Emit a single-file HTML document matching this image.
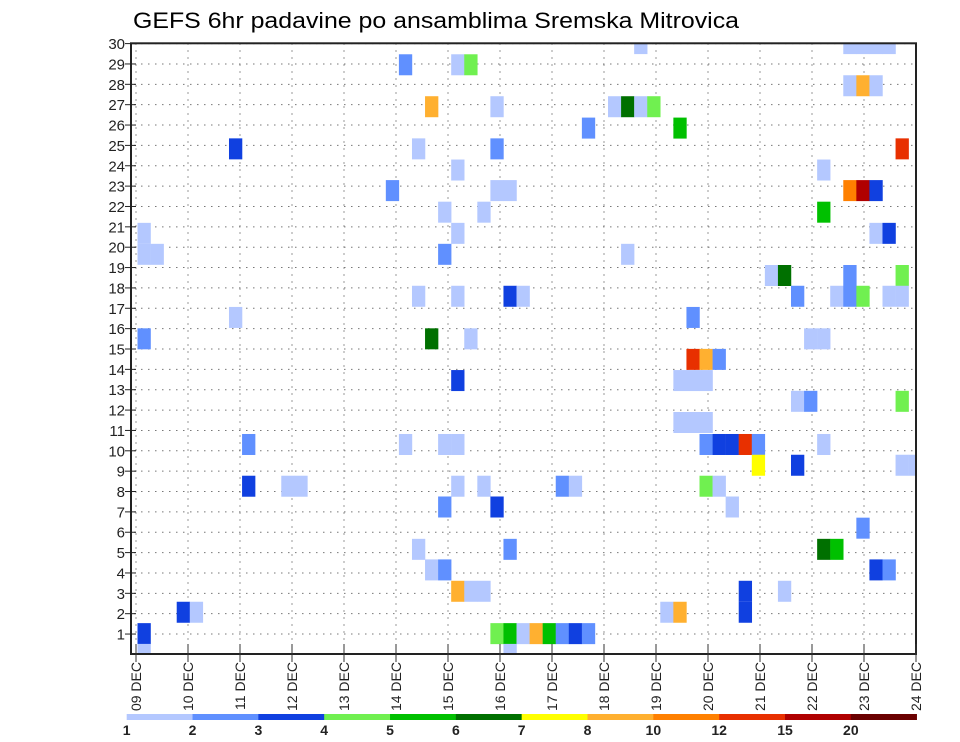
<!DOCTYPE html>
<html><head><meta charset="utf-8"><style>
html,body{margin:0;padding:0;background:#fff;}
svg{display:block;font-family:"Liberation Sans",sans-serif;}
</style></head><body>
<svg id="chart" width="960" height="742" viewBox="0 0 960 742" xmlns="http://www.w3.org/2000/svg">
<text x="133" y="28" font-size="22" textLength="606" lengthAdjust="spacingAndGlyphs" fill="#000">GEFS 6hr padavine po ansamblima Sremska Mitrovica</text>
<defs><clipPath id="plotclip"><rect x="134" y="43.3" width="782" height="610.7"/></clipPath></defs>
<g id="grid"></g>
<g id="cells" clip-path="url(#plotclip)"></g>
<g id="axes"></g>
<g id="colorbar"></g>
</svg>
<script>
// data: 6-hour step index from 09 DEC 00Z, ensemble member position, precip class
const cellTime   = [38,54,55,56,57, 20,24,25, 54,55,56, 22,27,36,37,38,39, 34,41, 7,21,27,58, 24,52, 19,27,28,54,55,56, 23,26,52, 0,24,56,57, 0,1,23,37, 48,49,54,58, 21,24,28,29,50,53,54,55,57,58, 7,42, 0,22,25,51,52, 42,43,44, 24,41,42,43, 50,51,58, 41,42,43, 8,20,23,24,43,44,45,46,47,52, 47,50,58,59, 8,11,12,24,26,32,33,43,44, 23,27,45, 55, 21,28,52,53, 22,23,56,57, 24,25,26,46,49, 3,4,40,41,46, 0,27,28,29,30,31,32,33,34, 0,28];
const cellMember = [30,30,30,30,30, 28.96,28.96,28.96, 27.93,27.93,27.93, 26.9,26.9,26.9,26.9,26.9,26.9, 25.85,25.85, 24.83,24.83,24.83,24.83, 23.79,23.79, 22.78,22.78,22.78,22.78,22.78,22.78, 21.72,21.72,21.72, 20.68,20.68,20.68,20.68, 19.65,19.65,19.65,19.65, 18.61,18.61,18.61,18.61, 17.59,17.59,17.59,17.59,17.59,17.59,17.59,17.59,17.59,17.59, 16.55,16.55, 15.5,15.5,15.5,15.5,15.5, 14.49,14.49,14.49, 13.45,13.45,13.45,13.45, 12.43,12.43,12.43, 11.39,11.39,11.39, 10.31,10.31,10.31,10.31,10.31,10.31,10.31,10.31,10.31,10.31, 9.29,9.29,9.29,9.29, 8.26,8.26,8.26,8.26,8.26,8.26,8.26,8.26,8.26, 7.24,7.24,7.24, 6.2, 5.16,5.16,5.16,5.16, 4.15,4.15,4.15,4.15, 3.1,3.1,3.1,3.1,3.1, 2.07,2.07,2.07,2.07,2.07, 1.02,1.02,1.02,1.02,1.02,1.02,1.02,1.02,1.02, 0,0];
const cellLevel  = [1,1,1,1,1, 2,1,4, 1,8,1, 8,1,1,6,1,4, 2,5, 3,1,2,10, 1,1, 2,1,1,9,11,3, 1,1,5, 1,1,1,3, 1,1,2,1, 1,6,2,4, 1,1,3,1,2,1,2,4,1,1, 1,2, 2,6,1,1,1, 10,8,2, 3,1,1,1, 1,2,4, 1,1,1, 2,1,1,1,2,3,3,10,2,1, 7,3,1,1, 3,1,1,1,1,2,1,4,1, 2,3,1, 2, 1,2,6,5, 1,2,3,2, 8,1,1,3,1, 3,1,1,8,3, 3,4,5,1,8,5,2,3,2, 1,1];
const dayLabels  = ["09","10","11","12","13","14","15","16","17","18","19","20","21","22","23","24"];
const memberTicks = [1,2,3,4,5,6,7,8,9,10,11,12,13,14,15,16,17,18,19,20,21,22,23,24,25,26,27,28,29,30];
const levelLabels = ["1","2","3","4","5","6","7","8","10","12","15","20"];
const palette = ["#b4c8ff","#6090ff","#1040e0","#70f050","#00c000","#007000","#ffff00","#ffb030","#ff8000","#e83000","#b00000","#6a0000"];

const NS="http://www.w3.org/2000/svg";
function mk(tag, attrs, parent){const e=document.createElementNS(NS,tag);for(const k in attrs)e.setAttribute(k,attrs[k]);parent.appendChild(e);return e;}
const X0=136, DAY=52, XR=916, YB=654.4, ROW=20.36, YT=43.3;
const xDay = d => X0 + d*DAY;
const xCell = k => 137.5 + k*13.07;
const yVal = v => YB - v*ROW;

const grid=document.getElementById('grid'), cells=document.getElementById('cells'), axes=document.getElementById('axes'), cb=document.getElementById('colorbar');

memberTicks.forEach(m=>{
  const g=mk('line',{x1:134,x2:XR,y1:yVal(m),y2:yVal(m),stroke:'#777','stroke-width':1,'stroke-dasharray':'1.5,5.5'},grid);
  
  
});
dayLabels.forEach((d,i)=>{
  const g=mk('line',{x1:xDay(i),x2:xDay(i),y1:YT,y2:654,stroke:'#777','stroke-width':1,'stroke-dasharray':'1.5,5.5'},grid);
  
  
});

for(let i=0;i<cellTime.length;i++){
  const r=mk('rect',{x:xCell(cellTime[i]),y:yVal(cellMember[i])-10.5,width:13.3,height:21,fill:palette[cellLevel[i]-1]},cells);
  
  
}

const fr=mk('rect',{x:131,y:YT,width:XR-131,height:654-YT,fill:'none',stroke:'#222','stroke-width':2},axes);



memberTicks.forEach(m=>{
  const t=mk('line',{x1:125,x2:136,y1:yVal(m),y2:yVal(m),stroke:'#222','stroke-width':1},axes);
  
  
  const l=mk('text',{x:125,y:yVal(m)+5.5,'font-size':15,'text-anchor':'end',fill:'#222'},axes);
  l.textContent=String(m);
  
  
});
dayLabels.forEach((d,i)=>{
  const x=xDay(i);
  const t=mk('line',{x1:x,x2:x,y1:644,y2:662,stroke:'#333','stroke-width':1},axes);
  
  
  const l=mk('text',{x:0,y:0,'font-size':14,'text-anchor':'end',fill:'#222',transform:`translate(${x+5},662) rotate(-90)`},axes);
  l.textContent=d+' DEC';
  
  
});

const CB0=126.7, CBW=65.83;
palette.forEach((c,i)=>{
  const r=mk('rect',{x:CB0+i*CBW,y:714,width:CBW+0.3,height:6,fill:c},cb);
  
  
});
levelLabels.forEach((t,i)=>{
  const l=mk('text',{x:CB0+i*CBW,y:735,'font-size':14,'font-weight':'bold','text-anchor':'middle',fill:'#222'},cb);
  l.textContent=t;
  
  
});
</script>
</body></html>
